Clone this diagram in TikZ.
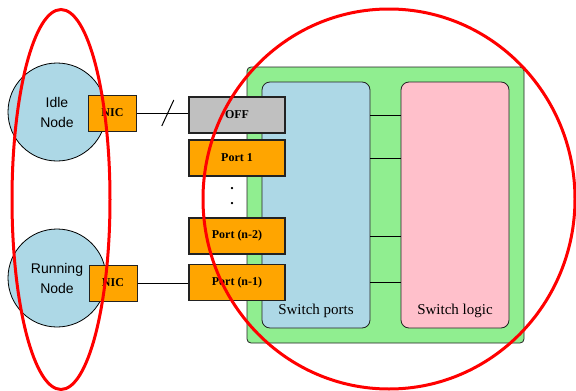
\documentclass[tikz,border=0pt]{standalone}
\usepackage{fontspec}
\setmainfont{Liberation Serif}
\setsansfont{Liberation Sans}
\usepackage{tikz}
\usetikzlibrary{positioning, calc}
\definecolor{cSwitch}{HTML}{90EE90}
\definecolor{cPorts} {HTML}{ADD8E6}
\definecolor{cLogic} {HTML}{FFC0CB}
\definecolor{cPort}  {HTML}{FFA500}
\definecolor{cOff}   {HTML}{C0C0C0}
\definecolor{cHost}  {HTML}{ADD8E6}
\definecolor{cRing}  {HTML}{FF0000}
\definecolor{cEdge}  {HTML}{222222}

\tikzset{
  hostnode/.style={circle, draw=black, line width=0.8pt, fill=cHost, minimum size=98pt,
                   inner sep=0pt, align=center, font=\sffamily\fontsize{14}{20}\selectfont},
  nicbox/.style={draw=cEdge, line width=1pt, fill=cPort, minimum width=48pt,
                 minimum height=36pt, inner sep=0pt, font=\bfseries\fontsize{12}{14}\selectfont},
  portbox/.style={draw=cEdge, line width=1.4pt, fill=cPort, minimum width=96pt,
                  minimum height=36pt, inner sep=0pt, font=\bfseries\fontsize{12}{14}\selectfont},
  panel/.style={draw=cEdge, line width=0.8pt, rounded corners=8pt, inner sep=0pt},
  wire/.style={draw=black, line width=1pt},
  redring/.style={draw=cRing, line width=3pt},
}

\begin{document}
\begin{tikzpicture}[x=1pt, y=-1pt]
  \useasboundingbox (0,0) rectangle (576,391);
  % switch
  \node[panel, rounded corners=4pt, fill=cSwitch, minimum width=277pt, minimum height=276pt]
        (switch) at (385.5,205) {};
  \node[panel, fill=cPorts, minimum width=108pt, minimum height=246pt] (ports) at (316,205) {};
  \node[panel, fill=cLogic, minimum width=108pt, minimum height=246pt] (logic) at (455,205) {};
  \node[font=\fontsize{15}{18}\selectfont] (portslbl) at (316,311) {Switch ports};
  \node[font=\fontsize{15}{18}\selectfont] (logiclbl) at (455,311) {Switch logic};
  % hosts
  \node[hostnode] (idle) at (57,112) {Idle\\Node};
  \node[hostnode] (running) at (57,278) {Running\\Node};
  \node[nicbox] (nicA) at (112.5,113) {NIC};
  \node[nicbox] (nicB) at (113,283) {NIC};
  % port column
  \node[portbox, fill=cOff] (off) at (237,115) {OFF};
  \node[portbox] (portA) at (237,158) {Port 1};
  \node[align=center, font=\bfseries\fontsize{14}{15}\selectfont] (dots) at (232,196) {.\\.};
  \node[portbox] (portC) at (237,236) {Port (n-2)};
  \node[portbox] (portD) at (237,282.5) {Port (n-1)};
  % links
  \draw[wire] (nicA.east) -- (nicA.east -| off.west);
  \coordinate (cut) at ($(nicA.east)!0.6!(nicA.east -| off.west)$);
  \draw[wire] ([shift={(-6,13)}]cut) -- ([shift={(6,-13)}]cut);
  \draw[wire] (nicB.east) -- (nicB.east -| portD.west);
  \foreach \p in {off, portA, portC, portD}{
    \draw[wire] (\p.east -| ports.east) -- (\p.east -| logic.west);
  }
  % red marks
  \draw[redring] (61,199.5) ellipse [x radius=49, y radius=190];
  \draw[redring] (389,199) ellipse [x radius=186, y radius=190];
\end{tikzpicture}
\end{document}
